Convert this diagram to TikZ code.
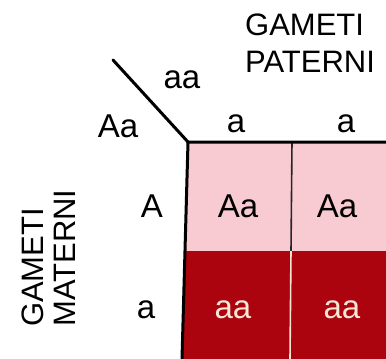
\documentclass[tikz,border=0pt]{standalone}
\usepackage{fontspec}
\setmainfont{Liberation Sans}
\definecolor{cellpink}{RGB}{248,203,211}
\definecolor{celldark}{RGB}{172,4,14}
\definecolor{cream}{RGB}{245,230,214}
\begin{document}
\begin{tikzpicture}[x=1pt,y=-1pt,
  title/.style={font=\fontsize{31}{31}\selectfont,inner sep=0pt,anchor=base west},
  lab/.style={font=\fontsize{33}{33}\selectfont,inner sep=0pt,anchor=base},
  lightlab/.style={lab,text=cream}]
\useasboundingbox (0,0) rectangle (386,359);
% cells
\fill[cellpink] (188,142) -- (386,142) -- (386,251) -- (185.5,251) -- cycle;
\fill[celldark] (185.5,251) -- (386,251) -- (386,359) -- (182,359) -- cycle;
% grid lines
\coordinate (d1) at (113,60);
\coordinate (c0) at (188,142);
\coordinate (cr) at (386,142);
\coordinate (cb) at (182,359);
\coordinate (m0) at (292,142);
\coordinate (m1) at (291,251);
\coordinate (m2) at (290,359);
\draw[line width=1.6pt,black!85] (m0) -- (m1);
\draw[line width=1.6pt,cream] (m1) -- (m2);
\draw[line width=3pt,line cap=round] (d1) -- (c0);
\draw[line width=3pt] (cr) -- (c0) -- (cb);
% titles
\node[title] (t1) at (245,35) {GAMETI};
\node[title] (t2) at (245,72) {PATERNI};
\node[title,rotate=90] (t3) at (43,327) {GAMETI};
\node[title,rotate=90] (t4) at (75,327) {MATERNI};
% corner labels
\node[lab] (gp) at (182,88) {aa};
\node[lab] (gm) at (118,137) {Aa};
% column and row headers
\node[lab] (h1) at (236,132) {a};
\node[lab] (h2) at (346,132) {a};
\node[lab] (r1) at (152,217) {A};
\node[lab] (r2) at (146,318) {a};
% cells
\node[lab] (c11) at (238,217) {Aa};
\node[lab] (c12) at (337,217) {Aa};
\node[lightlab] (c21) at (233,318) {aa};
\node[lightlab] (c22) at (342,318) {aa};
\end{tikzpicture}
\end{document}
